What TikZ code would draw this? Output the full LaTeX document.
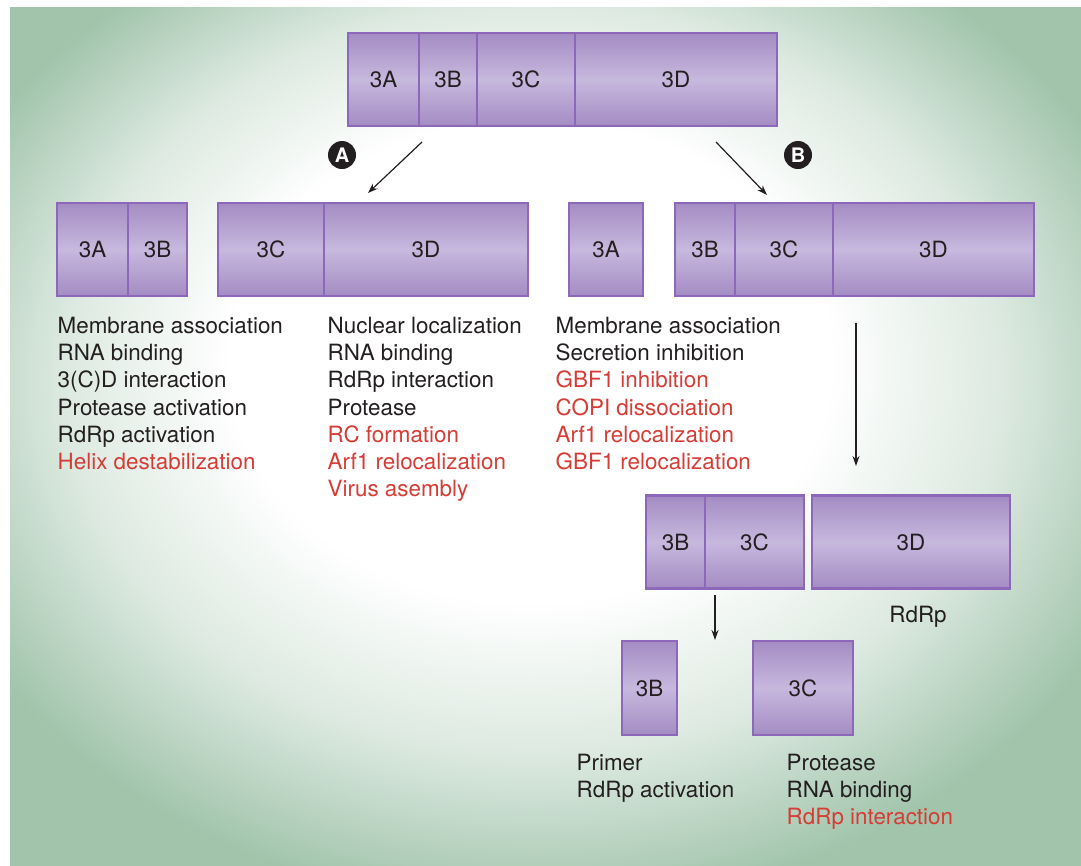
\documentclass[tikz,border=0pt]{standalone}
\usepackage{fontspec}
\setmainfont{TeX Gyre Heros}
\usepackage{tikz}
\usetikzlibrary{arrows.meta,positioning}
\usepackage{xcolor}
\definecolor{bggreen}{RGB}{161,196,171}
\definecolor{bglight}{RGB}{220,233,224}
\definecolor{segdark}{RGB}{164,140,195}
\definecolor{seglight}{RGB}{199,184,222}
\definecolor{segline}{RGB}{141,103,185}
\definecolor{txt}{RGB}{35,31,32}
\definecolor{fnred}{RGB}{214,60,54}
\pgfdeclareradialshading{bgshade}{\pgfpoint{-1bp}{6bp}}{color(0bp)=(white); color(14bp)=(white); color(22bp)=(bglight); color(30bp)=(bggreen); color(50bp)=(bggreen)}
\newcommand{\lstfont}{\fontsize{22.4}{27.2}\selectfont}
\newcommand{\rd}[1]{\textcolor{fnred}{#1}}

\begin{document}
\begin{tikzpicture}[
    x=1pt, y=-1pt,
    seg/.style={draw=segline, line width=2.4pt, top color=segdark, bottom color=segdark, middle color=seglight, inner sep=0pt, outer sep=0pt, minimum height=93pt, font=\lstfont, text=txt},
    lst/.style={anchor=north west, inner sep=0pt, align=left, font=\lstfont, text=txt},
    badge/.style={circle, fill=txt, text=white, inner sep=0pt, minimum size=28pt, font=\fontsize{20}{20}\selectfont\bfseries},
    arr/.style={-{Stealth[length=10pt, width=7pt]}, line width=1.2pt, draw=txt},
]
\useasboundingbox (0,0) rectangle (1081,865);
\fill[white] (0,0) rectangle (1081,865);
\fill[shading=bgshade] (10,7) rectangle (1081,865);

% polyprotein 3ABCD
\node[seg, minimum width=71pt, anchor=west] (top3A) at (348,79.5) {3A};
\node[seg, minimum width=58pt, right=0pt of top3A] (top3B) {3B};
\node[seg, minimum width=98pt, right=0pt of top3B] (top3C) {3C};
\node[seg, minimum width=202pt, right=0pt of top3C] (top3D) {3D};

% pathway A
\node[badge] (bdgA) at (342,155) {A};
\node[seg, minimum width=71pt, anchor=west] (a3A) at (57,249.5) {3A};
\node[seg, minimum width=59pt, right=0pt of a3A] (a3B) {3B};
\node[seg, minimum width=106pt, anchor=west] (a3C) at (218,249.5) {3C};
\node[seg, minimum width=204pt, right=0pt of a3C] (a3D) {3D};

% pathway B
\node[badge] (bdgB) at (798,155) {B};
\node[seg, minimum width=74pt, anchor=west] (b3A) at (569,249.5) {3A};
\node[seg, minimum width=60pt, anchor=west] (b3B) at (675,249.5) {3B};
\node[seg, minimum width=98pt, right=0pt of b3B] (b3C) {3C};
\node[seg, minimum width=201pt, right=0pt of b3C] (b3D) {3D};

\node[seg, minimum width=59pt, anchor=west] (c3B) at (646,542) {3B};
\node[seg, minimum width=99pt, right=0pt of c3B] (c3C) {3C};
\node[seg, minimum width=198pt, anchor=west] (c3D) at (812,542) {3D};
\node[font=\lstfont, text=txt, inner sep=0pt] (rdrp) at (918,617) {RdRp};

\node[seg, minimum width=55pt, minimum height=94pt] (d3B) at (649.5,688) {3B};
\node[seg, minimum width=100pt, minimum height=94pt] (d3C) at (803,688) {3C};

% functions
\node[lst] (fA) at (57.5,317) {Membrane association\\RNA binding\\3(C)D interaction\\Protease activation\\RdRp activation\\\rd{Helix destabilization}};
\node[lst] (fB) at (327.5,317) {Nuclear localization\\RNA binding\\RdRp interaction\\Protease\\\rd{RC formation}\\\rd{Arf1 relocalization}\\\rd{Virus asembly}};
\node[lst] (fC) at (555.5,317) {Membrane association\\Secretion inhibition\\\rd{GBF1 inhibition}\\\rd{COPI dissociation}\\\rd{Arf1 relocalization}\\\rd{GBF1 relocalization}};
\node[lst] (fD) at (576.5,754) {Primer\\RdRp activation};
\node[lst] (fE) at (786.5,754) {Protease\\RNA binding\\\rd{RdRp interaction}};

% cleavage arrows
\coordinate (aS) at (422,142);
\coordinate (aE) at (368,193);
\coordinate (bS) at (716,142);
\coordinate (bE) at (767,195);
\coordinate (cS) at (856,323);
\coordinate (cE) at (856,466);
\coordinate (dS) at (715,595);
\coordinate (dE) at (715,640);
\draw[arr] (aS) -- (aE);
\draw[arr] (bS) -- (bE);
\draw[arr] (cS) -- (cE);
\draw[arr] (dS) -- (dE);
\end{tikzpicture}
\end{document}
